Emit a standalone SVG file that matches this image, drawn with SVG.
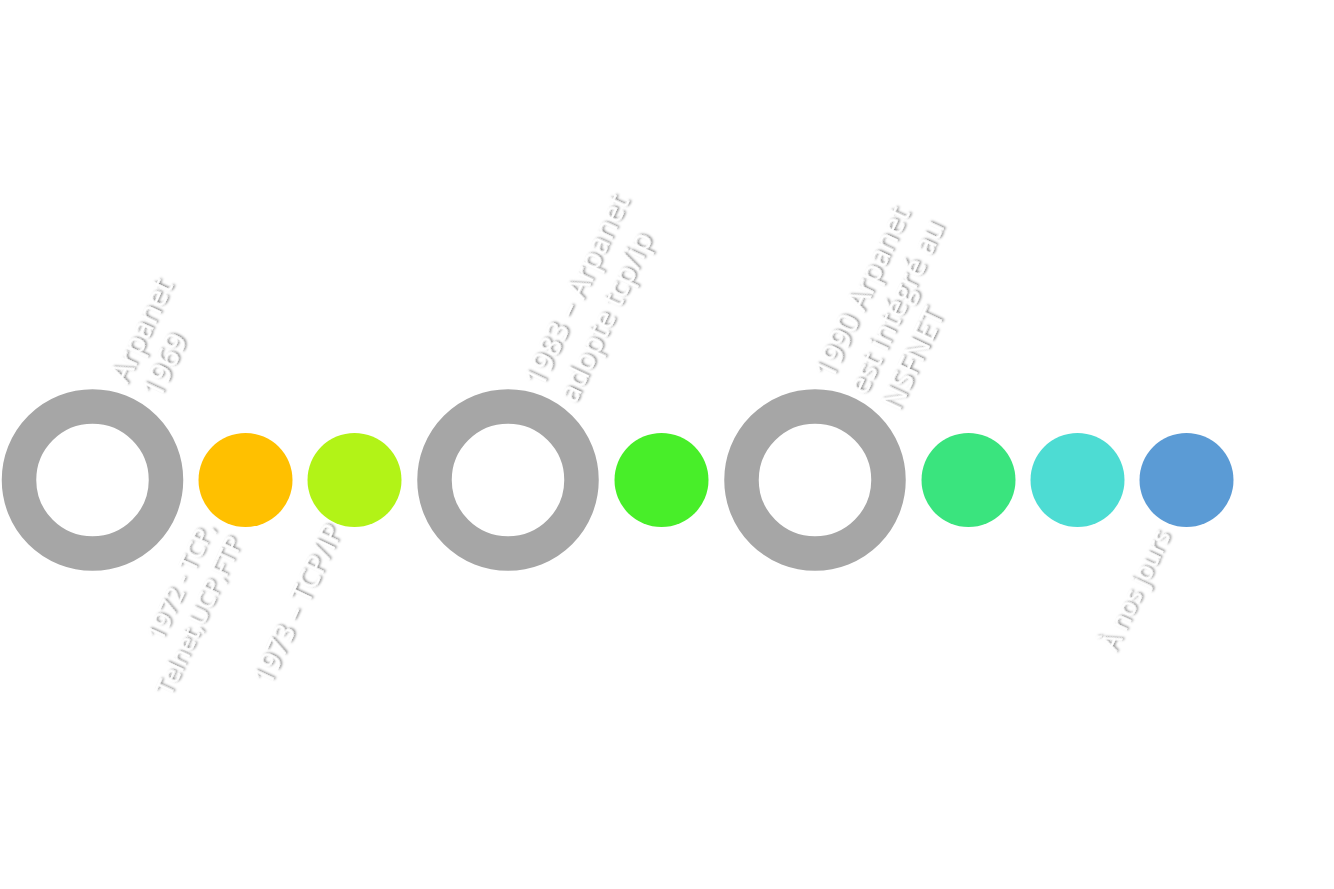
<svg xmlns="http://www.w3.org/2000/svg" width="1334" height="889" viewBox="0 0 1334 889">
<defs>
<filter id="sh" x="-20%" y="-20%" width="140%" height="140%">
<feDropShadow dx="1.5" dy="1.5" stdDeviation="1" flood-color="#000" flood-opacity="0.5"/>
</filter>
<style>
.ring{fill:none;stroke:#a6a6a6;stroke-width:34.5}
.lbl{font-family:"Open Sans","DejaVu Sans",sans-serif;fill:#fff;filter:url(#sh)}
.end{text-anchor:end}
</style>
</defs>
<rect width="1334" height="889" fill="#fff"/>
<g id="n1"><circle class="ring" cx="92.5" cy="480" r="73.5"/>
<text class="lbl" font-size="29.5" transform="translate(127 385) rotate(-65)"><tspan x="0" y="0">Arpanet</tspan><tspan x="0" dy="36">1969</tspan></text></g>
<g id="n2"><circle cx="245.5" cy="480" r="47" fill="#ffc000"/>
<text class="lbl end" font-size="24.5" transform="translate(215 528) rotate(-65)"><tspan x="0" y="0">1972 - TCP,</tspan><tspan x="0" dy="31">Telnet,UCP,FTP</tspan></text></g>
<g id="n3"><circle cx="354.5" cy="480" r="47" fill="#b2f317"/>
<text class="lbl end" font-size="27.3" transform="translate(343 530) rotate(-65)">1973 – TCP/IP</text></g>
<g id="n4"><circle class="ring" cx="508" cy="480" r="73.5"/>
<text class="lbl" font-size="29.5" transform="translate(542 389) rotate(-65)"><tspan x="0" y="0">1983 – Arpanet</tspan><tspan x="0" dy="37">adopte tcp/ip</tspan></text></g>
<g id="n5"><circle cx="661.5" cy="480" r="47" fill="#48ee29"/></g>
<g id="n6"><circle class="ring" cx="815" cy="480" r="73.5"/>
<text class="lbl" font-size="29.5" transform="translate(832 381) rotate(-65)"><tspan x="0" y="0">1990 Arpanet</tspan><tspan x="0" dy="37">est intégré au</tspan><tspan x="0" dy="37">NSFNET</tspan></text></g>
<g id="n7"><circle cx="968.5" cy="480" r="47" fill="#3ae47e"/></g>
<g id="n8"><circle cx="1077.5" cy="480" r="47" fill="#4ddcd3"/></g>
<g id="n9"><circle cx="1186.5" cy="480" r="47" fill="#5b9bd5"/>
<text class="lbl end" font-size="25" transform="translate(1171 535) rotate(-65)">À nos jours</text></g>
<g id="connectors"/>
</svg>
